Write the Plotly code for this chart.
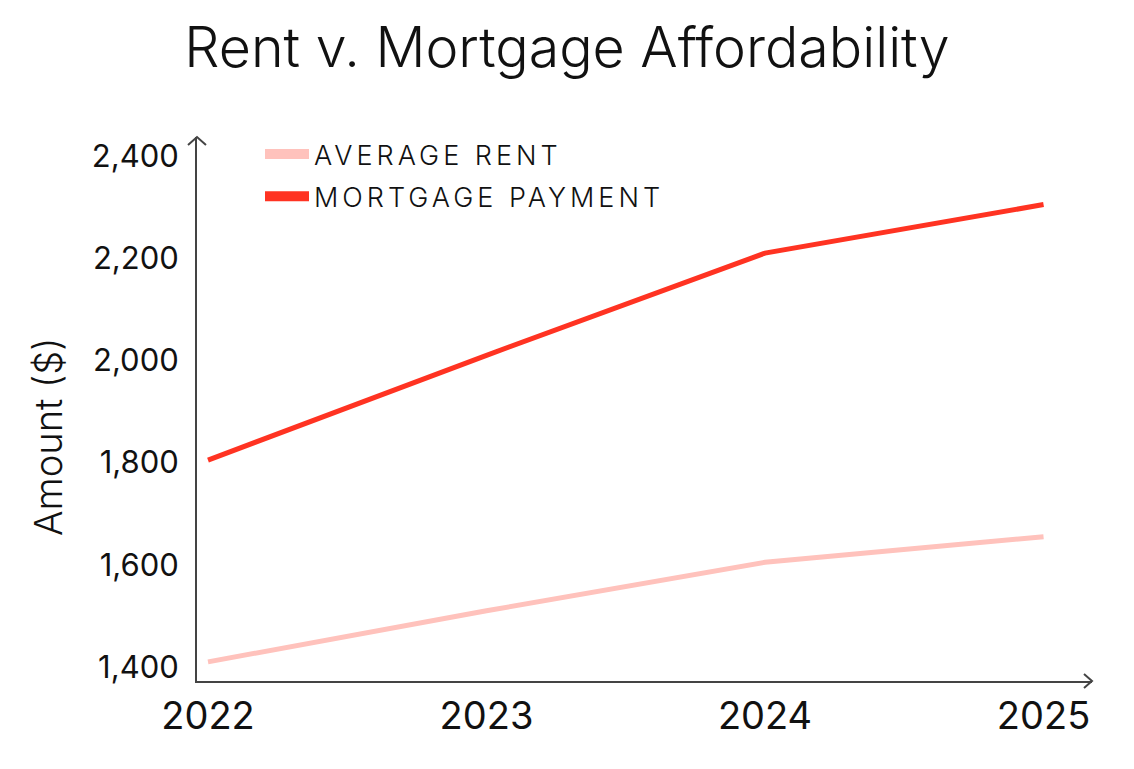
import plotly.graph_objects as go

years = [2022, 2023, 2024, 2025]
year_labels = ["2022", "2023", "2024", "2025"]
average_rent = [1410, 1510, 1605, 1655]
mortgage_payment = [1805, 2010, 2210, 2305]
y_ticks = [1400, 1600, 1800, 2000, 2200, 2400]
y_tick_labels = ["1,400", "1,600", "1,800", "2,000", "2,200", "2,400"]
series_names = ["AVERAGE RENT", "MORTGAGE PAYMENT"]

RENT_COLOR = "#FFC2BC"
MORT_COLOR = "#FF3322"
AXIS_COLOR = "#444444"
FONT = "Inter, Roboto, sans-serif"

W, H = 1134, 769
OFF = 8  # page body margin
L, R, T, B = 197 - OFF, 42 + OFF, 137 - OFF, 88 + OFF


def spaced(s):
    return f'<span style="letter-spacing:4px">{s}</span>'


fig = go.Figure()

fig.add_trace(go.Scatter(x=years, y=average_rent, mode="lines", name=series_names[0],
                         line=dict(color=RENT_COLOR, width=5), showlegend=False, hoverinfo="x+y"))
fig.add_trace(go.Scatter(x=years, y=mortgage_payment, mode="lines", name=series_names[1],
                         line=dict(color=MORT_COLOR, width=5), showlegend=False, hoverinfo="x+y"))
# legend entries
fig.add_trace(go.Scatter(x=[None], y=[None], mode="lines", name=spaced(series_names[0]),
                         line=dict(color=RENT_COLOR, width=14), legendgroup="a"))
fig.add_trace(go.Scatter(x=[None], y=[None], mode="lines", name=spaced(series_names[1]),
                         line=dict(color=MORT_COLOR, width=14), legendgroup="b"))

pw = W - L - R
ph = H - T - B
dx = 9 / pw
dy = 8 / ph
dx2 = 8 / pw
dy2 = 7 / ph

shapes = [
    dict(type="path", xref="paper", yref="paper",
         path=f"M {-dx},{1 - dy} L 0,1 L {dx},{1 - dy}",
         line=dict(color=AXIS_COLOR, width=2)),
    dict(type="path", xref="paper", yref="paper",
         path=f"M {1 - dx2},{dy2} L 1,0 L {1 - dx2},{-dy2}",
         line=dict(color=AXIS_COLOR, width=2)),
]

ytitle_y = 1 - (437 - 137) / ph

fig.update_layout(
    width=W, height=H,
    margin=dict(l=L, r=R, t=T, b=B, autoexpand=False),
    paper_bgcolor="white", plot_bgcolor="white",
    font=dict(family=FONT, color="#111111"),
    title=dict(text="Rent v. Mortgage Affordability", x=(567 - OFF) / W, xref="container", xanchor="center",
               y=1 - (48 - OFF) / H, yref="container", yanchor="middle",
               font=dict(family=FONT, size=55.5, color="#111111", weight=300)),
    showlegend=True,
    legend=dict(x=(252 - L) / pw, xanchor="left", y=1 + (T - 122) / ph, yanchor="top",
                font=dict(family=FONT, size=27, color="#111111", weight=300), itemwidth=44,
                traceorder="grouped", tracegroupgap=4, bgcolor="rgba(0,0,0,0)"),
    shapes=shapes,
    annotations=[dict(text="Amount ($)", xref="paper", yref="paper", x=-(197 - 48) / pw, y=ytitle_y,
                      xanchor="center", yanchor="middle", textangle=-90, showarrow=False,
                      font=dict(family=FONT, size=38, color="#111111", weight=300))],
    xaxis=dict(range=[2021.9605, 2025.174], tickmode="array", tickvals=years, ticktext=year_labels,
               showgrid=False, zeroline=False, showline=True, linecolor=AXIS_COLOR, linewidth=2,
               ticks="", ticklabelstandoff=0, tickfont=dict(family=FONT, size=38, color="#111111")),
    yaxis=dict(range=[1372.6, 2437.2], tickmode="array", tickvals=y_ticks, ticktext=y_tick_labels,
               showgrid=False, zeroline=False, showline=True, linecolor=AXIS_COLOR, linewidth=2,
               ticks="", ticklabelstandoff=10, tickfont=dict(family=FONT, size=31, color="#111111")),
)

fig.write_html("out.html")
